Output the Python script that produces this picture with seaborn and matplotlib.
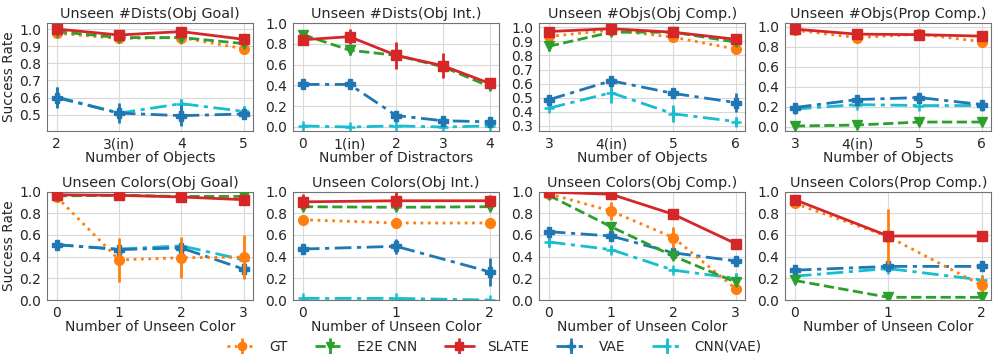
import numpy as np
import pandas as pd
import matplotlib
matplotlib.use('Agg')
import matplotlib.pyplot as plt
import seaborn as sns
from matplotlib.lines import Line2D

sns.set_style('whitegrid', {'axes.edgecolor': '0.45', 'grid.color': '0.85'})
plt.rcParams['font.family'] = ['DejaVu Sans']
plt.rcParams['font.size'] = 10

methods = ['GT', 'E2E CNN', 'SLATE', 'VAE', 'CNN(VAE)']
colors = {'GT': '#ff7f0e', 'E2E CNN': '#2ca02c', 'SLATE': '#d62728',
          'VAE': '#1f77b4', 'CNN(VAE)': '#17becf'}
lstyles = {'GT': ':', 'E2E CNN': '--', 'SLATE': '-', 'VAE': (0, (6, 2, 1.5, 2)),
           'CNN(VAE)': (0, (6, 2, 1.5, 2))}
markers = {'GT': 'o', 'E2E CNN': 'v', 'SLATE': 's', 'VAE': 'P', 'CNN(VAE)': '+'}
zorders = {'GT': 4, 'E2E CNN': 5, 'SLATE': 6, 'VAE': 3, 'CNN(VAE)': 2}

titles = ['Unseen #Dists(Obj Goal)', 'Unseen #Dists(Obj Int.)',
          'Unseen #Objs(Obj Comp.)', 'Unseen #Objs(Prop Comp.)',
          'Unseen Colors(Obj Goal)', 'Unseen Colors(Obj Int.)',
          'Unseen Colors(Obj Comp.)', 'Unseen Colors(Prop Comp.)']
xlabels = ['Number of Objects', 'Number of Distractors', 'Number of Objects', 'Number of Objects',
           'Number of Unseen Color', 'Number of Unseen Color', 'Number of Unseen Color',
           'Number of Unseen Color']
xticks = [['2', '3(in)', '4', '5'], ['0', '1(in)', '2', '3', '4'],
          ['3', '4(in)', '5', '6'], ['3', '4(in)', '5', '6'],
          ['0', '1', '2', '3'], ['0', '1', '2'], ['0', '1', '2', '3'], ['0', '1', '2']]
ylims = [(0.405, 1.037), (-0.04, 1.005), (0.262, 1.033), (-0.046, 1.04),
         (0.0, 1.0), (0.0, 1.0), (0.0, 1.0), (0.0, 1.0)]
yticks = [np.arange(0.5, 1.01, 0.1), np.arange(0, 1.01, 0.2), np.arange(0.3, 1.01, 0.1),
          np.arange(0, 1.01, 0.2), np.arange(0, 1.01, 0.2), np.arange(0, 1.01, 0.2),
          np.arange(0, 1.01, 0.2), np.arange(0, 1.01, 0.2)]

# success rates per panel
gt_mean = [[0.975, 0.945, 0.95, 0.885], None, [0.935, 0.98, 0.93, 0.845], [0.965, 0.89, 0.925, 0.85],
           [0.95, 0.37, 0.39, 0.395], [0.74, 0.71, 0.71], [0.98, 0.82, 0.575, 0.105], [0.89, 0.585, 0.135]]
gt_err = [[0.02, 0.01, 0.04, 0.01], None, [0.02, 0.01, 0.01, 0.02], [0.01, 0.01, 0.01, 0.02],
          [0.02, 0.2, 0.19, 0.2], [0.01, 0.01, 0.01], [0.01, 0.08, 0.1, 0.05], [0.02, 0.25, 0.1]]
e2e_mean = [[0.985, 0.95, 0.95, 0.915], [0.89, 0.74, 0.69, 0.58, 0.39], [0.865, 0.965, 0.965, 0.895],
            [0.005, 0.015, 0.045, 0.045], [0.96, 0.965, 0.955, 0.955], [0.86, 0.855, 0.86],
            [0.965, 0.675, 0.405, 0.165], [0.18, 0.025, 0.025]]
e2e_err = [[0.01, 0.01, 0.01, 0.01], [0.02, 0.05, 0.04, 0.04, 0.03], [0.03, 0.01, 0.01, 0.01],
           [0.01, 0.01, 0.01, 0.01], [0.01, 0.01, 0.01, 0.01], [0.01, 0.01, 0.01],
           [0.01, 0.02, 0.02, 0.02], [0.01, 0.01, 0.02]]
slate_mean = [[1.0, 0.965, 0.985, 0.94], [0.84, 0.87, 0.69, 0.59, 0.42], [0.97, 0.99, 0.965, 0.915],
              [0.975, 0.925, 0.92, 0.905], [0.97, 0.965, 0.95, 0.925], [0.905, 0.915, 0.915],
              [0.995, 0.975, 0.79, 0.52], [0.925, 0.59, 0.59]]
slate_err = [[0.01, 0.01, 0.01, 0.01], [0.03, 0.07, 0.13, 0.12, 0.04], [0.01, 0.01, 0.01, 0.01],
             [0.01, 0.01, 0.01, 0.01], [0.01, 0.01, 0.01, 0.01], [0.07, 0.08, 0.05],
             [0.01, 0.01, 0.01, 0.01], [0.01, 0.01, 0.01]]
vae_mean = [[0.60, 0.51, 0.495, 0.505], [0.41, 0.41, 0.11, 0.06, 0.05], [0.485, 0.62, 0.53, 0.465],
            [0.19, 0.27, 0.29, 0.22], [0.51, 0.465, 0.48, 0.285], [0.47, 0.495, 0.26],
            [0.63, 0.59, 0.435, 0.36], [0.275, 0.31, 0.31]]
vae_err = [[0.06, 0.06, 0.06, 0.03], [0.02, 0.02, 0.02, 0.02, 0.02], [0.02, 0.02, 0.02, 0.07],
           [0.02, 0.03, 0.04, 0.03], [0.04, 0.04, 0.04, 0.04], [0.03, 0.07, 0.13],
           [0.02, 0.02, 0.03, 0.02], [0.02, 0.02, 0.02]]
cnn_mean = [[0.605, 0.51, 0.565, 0.52], [0.01, 0.0, 0.01, 0.0, 0.01], [0.425, 0.535, 0.385, 0.33],
            [0.175, 0.22, 0.21, 0.21], [0.51, 0.47, 0.50, 0.37], [0.015, 0.015, 0.0],
            [0.535, 0.465, 0.275, 0.2], [0.22, 0.29, 0.185]]
cnn_err = [[0.06, 0.01, 0.03, 0.03], [0.02, 0.01, 0.01, 0.01, 0.01], [0.01, 0.07, 0.06, 0.03],
           [0.01, 0.01, 0.01, 0.01], [0.02, 0.02, 0.02, 0.02], [0.01, 0.01, 0.01],
           [0.05, 0.03, 0.02, 0.05], [0.01, 0.02, 0.01]]

means = {'GT': gt_mean, 'E2E CNN': e2e_mean, 'SLATE': slate_mean, 'VAE': vae_mean, 'CNN(VAE)': cnn_mean}
errs = {'GT': gt_err, 'E2E CNN': e2e_err, 'SLATE': slate_err, 'VAE': vae_err, 'CNN(VAE)': cnn_err}

fig, axes = plt.subplots(2, 4, figsize=(9.95, 3.54), dpi=100)
fig.subplots_adjust(left=0.0477, right=0.996, top=0.936, bottom=0.1525, wspace=0.197, hspace=0.557)

for i, ax in enumerate(axes.flat):
    xs = xticks[i]
    pos = np.arange(len(xs))
    for m in methods:
        vals = means[m][i]
        if vals is None:
            continue
        c = colors[m]
        sns.lineplot(x=pos, y=vals, ax=ax, color=c, linestyle=lstyles[m], marker=markers[m],
                     markersize=7 if m != 'CNN(VAE)' else 7.5, markeredgecolor=c,
                     markeredgewidth=1 if m != 'CNN(VAE)' else 1.8,
                     linewidth=2, zorder=zorders[m], legend=False)
        ax.errorbar(pos, vals, yerr=errs[m][i], fmt='none', ecolor=c, elinewidth=2,
                    zorder=zorders[m])
    ax.set_xticks(pos)
    ax.set_xticklabels(xs)
    ax.set_ylim(*ylims[i])
    ax.set_yticks(yticks[i])
    ax.set_yticklabels(['%.1f' % t for t in yticks[i]])
    ax.set_title(titles[i], fontsize=10.4, pad=3)
    ax.set_xlabel(xlabels[i], fontsize=10, labelpad=0)
    ax.tick_params(axis='both', labelsize=10, pad=1.5, length=3, width=0.8, color='0.6')
    if i % 4 == 0:
        ax.set_ylabel('Success Rate', fontsize=9.8, labelpad=2)
    else:
        ax.set_ylabel('')

handles = []
for m in methods:
    c = colors[m]
    ln = Line2D([], [], color=c, linestyle=lstyles[m], linewidth=2, marker=markers[m],
                markersize=6, markeredgecolor=c, markeredgewidth=1 if m != 'CNN(VAE)' else 1.8)
    bar = Line2D([], [], color=c, linestyle='none', marker='|', markersize=11, markeredgewidth=2)
    handles.append((ln, bar))

fig.legend(handles, methods, loc='center', bbox_to_anchor=(0.497, 0.021), ncol=5, frameon=False,
           fontsize=9.8, handlelength=2.1, handletextpad=1.0, columnspacing=2.0)

fig.savefig('out.png', dpi=100)
